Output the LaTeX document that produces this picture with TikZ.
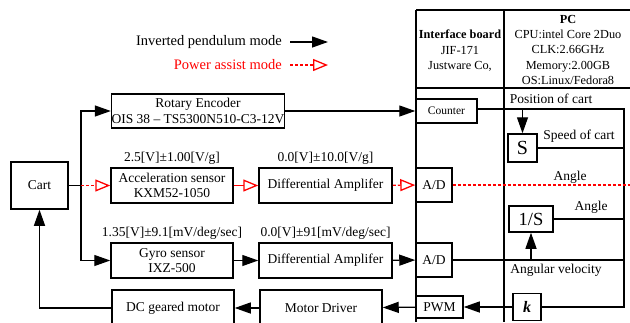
\documentclass[tikz,border=0pt]{standalone}
\usepackage{fontspec}
\setmainfont{Liberation Serif}
\usetikzlibrary{arrows.meta}
\begin{document}
\begin{tikzpicture}[x=1pt,y=-1pt,
  every node/.style={font=\fontsize{13.5}{15.5}\selectfont,inner sep=0pt},
  blk/.style={draw,line width=1.5pt,align=center},
  wire/.style={line width=1.3pt},
  sig/.style={line width=1.3pt,-{Triangle[length=16pt,width=11pt]}},
  pa/.style={red,line width=1.3pt,dash pattern=on 3pt off 2pt,-{Triangle[open,length=15pt,width=12pt]}},
  pasolid/.style={red,line width=1.3pt,-{Triangle[open,length=15pt,width=12pt]}},
  tbl/.style={font=\fontsize{12.3}{15.4}\selectfont,align=center}]
\clip (0,0) rectangle (630,322);
\node[anchor=east,font=\fontsize{14.5}{16}\selectfont] (lg1) at (282,42) {Inverted pendulum mode};
\node[anchor=east,font=\fontsize{14.5}{16}\selectfont,text=red] (lg2) at (282,65) {Power assist mode};
\coordinate (lg1a) at (290,42);
\coordinate (lg1b) at (328,42);
\coordinate (lg2a) at (290,65);
\coordinate (lg2b) at (328,65);
\draw[line width=1.7pt] (416,10) -- (416,322);
\draw[line width=1.5pt] (504,10) -- (504,322);
\draw[line width=1.7pt] (416,10) -- (630,10);
\draw[line width=1.5pt] (416,88) -- (630,88);
\node[tbl] (ifb) at (460,51) {\textbf{Interface board}\\JIF-171\\Justware Co,};
\node[tbl] (pc) at (568,50) {\textbf{PC}\\CPU:intel Core 2Duo\\CLK:2.66GHz\\Memory:2.00GB\\OS:Linux/Fedora8};
\node[blk,minimum width=57pt,minimum height=47pt] (cart) at (39.5,185.5) {Cart};
\node[blk,minimum width=172pt,minimum height=34pt] (enc) at (198,111) {Rotary Encoder\\OIS 38 -- TS5300N510-C3-12V};
\node[blk,minimum width=122pt,minimum height=35pt] (acc) at (172,185.5) {Acceleration sensor\\KXM52-1050};
\node[blk,minimum width=133pt,minimum height=35pt] (amp1) at (325.5,185.5) {Differential Amplifer};
\node[blk,minimum width=122pt,minimum height=35pt] (gyro) at (172,260.5) {Gyro sensor\\IXZ-500};
\node[blk,minimum width=133pt,minimum height=35pt] (amp2) at (325.5,260.5) {Differential Amplifer};
\node[blk,minimum width=122pt,minimum height=36pt] (mot) at (173,308) {DC geared motor};
\node[blk,minimum width=122pt,minimum height=36pt] (drv) at (321,308) {Motor Driver};
\node[above=3pt] (accl) at (acc.north) {2.5[V]±1.00[V/g]};
\node[above=3pt] (amp1l) at (amp1.north) {0.0[V]±10.0[V/g]};
\node[above=3pt] (gyrol) at (gyro.north) {1.35[V]±9.1[mV/deg/sec]};
\node[above=3pt] (amp2l) at (amp2.north) {0.0[V]±91[mV/deg/sec]};
\node[blk,minimum width=61pt,minimum height=24pt,font=\fontsize{11.5}{13}\selectfont] (cnt) at (446.5,111) {Counter};
\node[blk,minimum width=36pt,minimum height=34pt] (ad1) at (434,185) {A/D};
\node[blk,minimum width=36pt,minimum height=34pt] (ad2) at (434,260) {A/D};
\node[blk,minimum width=47pt,minimum height=22pt] (pwm) at (439.5,307) {PWM};
\node[blk,minimum width=29pt,minimum height=28pt,font=\fontsize{20}{22}\selectfont] (s) at (522.5,148) {S};
\node[blk,minimum width=44pt,minimum height=26pt,font=\fontsize{18.5}{20}\selectfont] (int) at (531,219) {1/S};
\node[blk,minimum width=28pt,minimum height=27pt,font=\fontsize{16}{18}\selectfont] (k) at (527,307) {\textbf{\textit{k}}};
\node (posl) at (551,99) {Position of cart};
\node (spdl) at (579,136) {Speed of cart};
\node (ang1l) at (570,177) {Angle};
\node (ang2l) at (591,207) {Angle};
\node (avl) at (556,270) {Angular velocity};
\coordinate (fork) at (81,185.5);
\coordinate (ne) at (624,109);
\coordinate (se) at (624,307);
\coordinate (redend) at (630,185);
\draw[sig] (lg1a) -- (lg1b);
\draw[pa] (lg2a) -- (lg2b);
\draw[wire] (cart) -- (fork);
\draw[sig] (fork) |- (enc);
\draw[sig] (fork) |- (gyro);
\draw[pa] (fork) -- (acc);
\draw[pasolid] (acc) -- (amp1);
\draw[pa] (amp1) -- (ad1);
\draw[sig] (gyro) -- (amp2);
\draw[sig] (amp2) -- (ad2);
\draw[sig] (enc) -- (cnt);
\draw[sig] (k) -- (pwm);
\draw[sig] (pwm) -- (drv);
\draw[sig] (drv) -- (mot);
\draw[sig] (mot) -| (cart);
\draw[wire] (cnt.east |- ne) -- (ne) -- (se) -- (k);
\draw[sig] (s.north |- ne) -- (s);
\draw[wire] (s) -- (s -| ne);
\draw[red,line width=1.3pt,dash pattern=on 3pt off 2pt] (ad1) -- (redend);
\draw[wire] (int) -- (int -| ne);
\draw[wire] (ad2) -- (ad2 -| ne);
\draw[sig] (ad2 -| int) -- (int);
\end{tikzpicture}
\end{document}
